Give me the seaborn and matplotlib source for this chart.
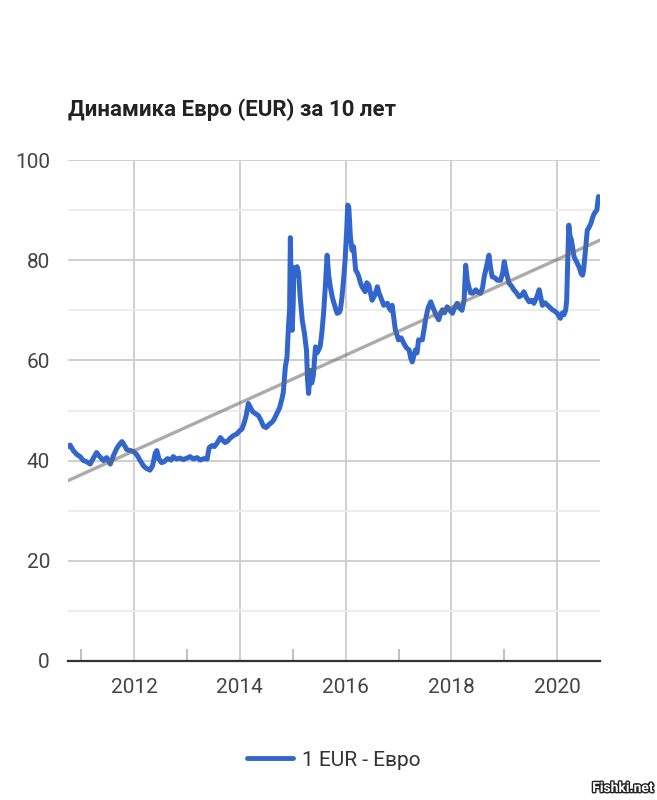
import matplotlib
matplotlib.use("Agg")
import matplotlib.pyplot as plt
import matplotlib.patheffects as pe
import seaborn as sns
import pandas as pd
import numpy as np

# ---- data (decimal year, EUR/RUB) ----
years = [
    2010.75, 2010.79, 2010.85, 2010.92, 2010.98, 2011.04, 2011.10, 2011.17, 2011.23, 2011.29,
    2011.35, 2011.42, 2011.48, 2011.55, 2011.61, 2011.67, 2011.72, 2011.77, 2011.82, 2011.86,
    2011.93, 2011.99, 2012.05, 2012.11, 2012.18, 2012.24, 2012.30, 2012.35, 2012.40, 2012.43,
    2012.47, 2012.52, 2012.57, 2012.63, 2012.70, 2012.74, 2012.80, 2012.87, 2012.93, 2013.00,
    2013.06, 2013.12, 2013.19, 2013.25, 2013.32, 2013.38, 2013.42, 2013.47, 2013.52, 2013.57,
    2013.63, 2013.68, 2013.72, 2013.76, 2013.82, 2013.88, 2013.94, 2014.00, 2014.04, 2014.08,
    2014.12, 2014.16, 2014.20, 2014.24, 2014.29, 2014.35, 2014.40, 2014.45, 2014.50, 2014.55,
    2014.60, 2014.64, 2014.70, 2014.75, 2014.79, 2014.82, 2014.86, 2014.89, 2014.92, 2014.94,
    2014.955, 2014.97, 2014.99, 2015.01, 2015.02, 2015.05, 2015.08, 2015.11, 2015.14, 2015.18,
    2015.22, 2015.26, 2015.28, 2015.30, 2015.33, 2015.36, 2015.39, 2015.43, 2015.46, 2015.49,
    2015.52, 2015.55, 2015.58, 2015.62, 2015.65, 2015.68, 2015.71, 2015.75, 2015.78, 2015.82,
    2015.84, 2015.88, 2015.90, 2015.93, 2015.96, 2015.99, 2016.02, 2016.04, 2016.06, 2016.09,
    2016.12, 2016.15, 2016.19, 2016.22, 2016.25, 2016.28, 2016.31, 2016.37, 2016.40, 2016.44,
    2016.47, 2016.50, 2016.55, 2016.60, 2016.63, 2016.66, 2016.72, 2016.79, 2016.82, 2016.85,
    2016.88, 2016.91, 2016.94, 2017.00, 2017.05, 2017.10, 2017.15, 2017.20, 2017.23, 2017.26,
    2017.29, 2017.32, 2017.35, 2017.38, 2017.45, 2017.48, 2017.51, 2017.56, 2017.61, 2017.64,
    2017.67, 2017.71, 2017.76, 2017.80, 2017.83, 2017.87, 2017.92, 2017.97, 2018.02, 2018.06,
    2018.11, 2018.15, 2018.20, 2018.24, 2018.27, 2018.30, 2018.33, 2018.36, 2018.40, 2018.46,
    2018.50, 2018.55, 2018.59, 2018.62, 2018.67, 2018.71, 2018.74, 2018.77, 2018.82, 2018.87,
    2018.93, 2018.97, 2019.00, 2019.04, 2019.09, 2019.14, 2019.18, 2019.23, 2019.28, 2019.33,
    2019.37, 2019.42, 2019.47, 2019.52, 2019.56, 2019.61, 2019.66, 2019.69, 2019.72, 2019.77,
    2019.82, 2019.87, 2019.91, 2019.96, 2020.00, 2020.06, 2020.10, 2020.13, 2020.16, 2020.18,
    2020.20, 2020.22, 2020.24, 2020.27, 2020.30, 2020.32, 2020.35, 2020.38, 2020.42, 2020.45,
    2020.48, 2020.50, 2020.53, 2020.57, 2020.60, 2020.64, 2020.67, 2020.70, 2020.75, 2020.78,
    2020.80,
]
eur_rub = [
    42.8, 43.1, 42.0, 41.2, 40.8, 40.0, 39.8, 39.3, 40.5, 41.6,
    40.8, 40.0, 40.6, 39.3, 41.0, 42.4, 43.2, 43.8, 43.0, 42.2,
    42.0, 41.8, 41.2, 40.1, 38.9, 38.4, 38.1, 39.0, 41.5, 42.0,
    40.3, 39.6, 39.8, 40.4, 40.1, 40.8, 40.3, 40.5, 40.2, 40.5,
    40.8, 40.3, 40.6, 40.1, 40.4, 40.3, 42.6, 43.0, 42.8, 43.5,
    44.6, 44.0, 43.6, 43.8, 44.5, 45.0, 45.3, 46.0, 46.3, 47.5,
    49.0, 51.4, 50.6, 49.8, 49.4, 49.0, 48.0, 46.8, 46.6, 47.2,
    47.6, 48.1, 49.4, 50.5, 52.1, 53.5, 58.7, 60.5, 67.0, 70.0,
    84.5, 75.0, 66.0, 72.0, 78.5, 77.0, 78.7, 77.5, 72.7, 68.0,
    65.5, 62.0, 56.0, 53.4, 58.0, 55.5, 57.0, 62.7, 61.5, 62.1,
    62.9, 65.5, 69.0, 75.4, 81.0, 77.0, 74.7, 72.5, 71.4, 70.0,
    69.4, 69.6, 70.1, 72.5, 76.0, 80.0, 86.0, 91.0, 90.5, 84.7,
    82.0, 82.7, 78.0, 77.5, 76.7, 75.5, 74.7, 73.7, 75.5, 75.0,
    73.5, 72.0, 73.0, 74.7, 73.5, 72.7, 71.0, 71.4, 70.5, 70.0,
    71.0, 68.5, 66.1, 64.1, 64.5, 63.4, 62.5, 62.1, 60.5, 59.7,
    61.0, 62.1, 61.5, 64.1, 64.1, 66.0, 68.1, 70.5, 71.7, 70.8,
    70.1, 69.0, 68.1, 69.5, 70.1, 69.5, 70.7, 70.0, 69.4, 70.5,
    71.4, 70.5, 70.0, 72.0, 79.0, 76.0, 74.7, 73.5, 73.4, 74.1,
    73.6, 73.4, 74.5, 76.7, 79.0, 81.0, 78.5, 76.7, 76.5, 76.0,
    76.0, 77.5, 79.7, 77.5, 75.4, 74.8, 74.1, 73.5, 72.7, 73.0,
    73.7, 72.5, 71.7, 72.0, 71.4, 72.5, 74.1, 72.5, 71.0, 71.5,
    71.0, 70.5, 70.1, 69.8, 69.4, 68.4, 69.5, 69.1, 70.0, 72.0,
    80.0, 87.0, 85.0, 84.0, 82.0, 80.7, 80.0, 79.4, 78.5, 77.4,
    77.0, 78.0, 81.5, 86.0, 86.5, 87.4, 88.5, 89.3, 90.0, 92.7,
    91.5,
]
trend_years = [2010.75, 2020.81]
trend_values = [36.0, 84.0]

title = "Динамика Евро (EUR) за 10 лет"
series_label = "1 EUR - Евро"
x_major_ticks = [2012, 2014, 2016, 2018, 2020]
x_minor_ticks = [2011, 2013, 2015, 2017, 2019]
y_major_ticks = [0, 20, 40, 60, 80, 100]
y_minor_ticks = [10, 30, 50, 70, 90]

df = pd.DataFrame({"year": years, "rate": eur_rub})
trend = pd.DataFrame({"year": trend_years, "rate": trend_values})

sns.set_theme(style="white")
plt.rcParams["font.family"] = ["Roboto", "DejaVu Sans"]

fig = plt.figure(figsize=(6.57, 8.0), dpi=100)
ax = fig.add_axes([68 / 657, 1 - 661 / 800, (600 - 68) / 657, (661 - 160) / 800])

sns.lineplot(data=df, x="year", y="rate", ax=ax, color="#3366cc", lw=3.6,
             label=series_label, zorder=3)
sns.lineplot(data=trend, x="year", y="rate", ax=ax, color="#666666", lw=2.4,
             alpha=0.55, legend=False, zorder=4)

ax.set_xlim(2010.75, 2020.81)
ax.set_ylim(0, 100)
ax.set_xticks(x_major_ticks)
ax.set_xticks(x_minor_ticks, minor=True)
ax.set_yticks(y_major_ticks)
ax.set_yticks(y_minor_ticks, minor=True)
ax.set_xticklabels([str(t) for t in x_major_ticks])
ax.set_xlabel("")
ax.set_ylabel("")

ax.grid(which="major", axis="both", color="#cccccc", lw=1.3, zorder=0)
ax.grid(which="minor", axis="y", color="#ebebeb", lw=1.3, zorder=0)
ax.set_axisbelow(True)

for s in ["top", "right", "left"]:
    ax.spines[s].set_visible(False)
ax.spines["bottom"].set_color("#333333")
ax.spines["bottom"].set_linewidth(1.6)
ax.spines["bottom"].set_zorder(5)

ax.tick_params(axis="both", which="major", length=0, labelsize=15,
               labelcolor="#444444")
ax.tick_params(axis="y", which="major", pad=13)
ax.tick_params(axis="x", which="major", pad=12)
ax.tick_params(axis="x", which="minor", direction="in", length=9, width=1.3,
               color="#bbbbbb", bottom=True)
ax.tick_params(axis="y", which="minor", length=0)

fig.text(68 / 657, 1 - 110 / 800, title, fontsize=16, fontweight="bold",
         color="#222222", va="center", ha="left")

handles, labels = ax.get_legend_handles_labels()
ax.get_legend().remove()
leg = fig.legend(handles, labels, loc="center", bbox_to_anchor=(334 / 657, 1 - 760 / 800),
                 frameon=False, fontsize=15, handlelength=2.2, handletextpad=0.45)
for t in leg.get_texts():
    t.set_color("#333333")
for l in leg.get_lines():
    l.set_linewidth(3.5)

wm = fig.text(0.995, 1 - 788 / 800, "Fishki.net", fontsize=10, fontweight="bold",
              color="white", ha="right", va="center")
wm.set_path_effects([pe.withStroke(linewidth=2, foreground="#222222")])

fig.savefig("out.png", dpi=100, facecolor="white")
